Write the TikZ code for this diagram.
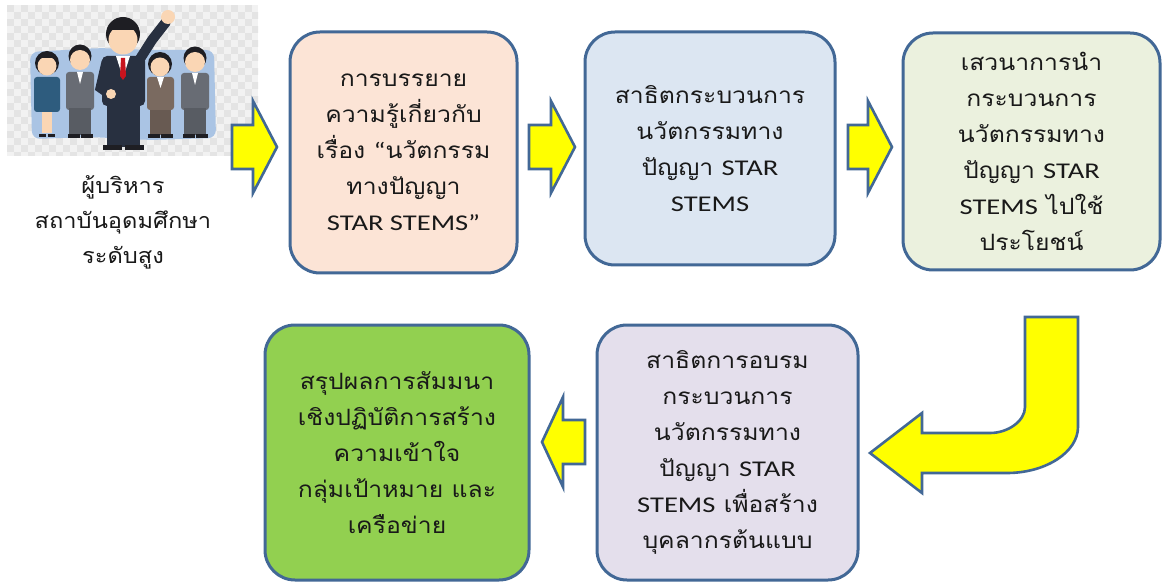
\documentclass[tikz,border=0pt]{standalone}
\usepackage{fontspec}
\newfontfamily\thaifont[Script=Thai, FakeStretch=1.1]{Loma}
\newfontfamily\latf[FakeStretch=1.27]{Carlito}
\definecolor{bord}{RGB}{66,104,150}
\definecolor{txt}{RGB}{25,25,25}
\definecolor{peach}{RGB}{252,228,214}
\definecolor{lblue}{RGB}{220,230,242}
\definecolor{lgreen}{RGB}{235,241,222}
\definecolor{lilac}{RGB}{228,223,236}
\definecolor{green1}{RGB}{146,208,80}
\definecolor{arrowfill}{RGB}{255,255,0}
\definecolor{chkA}{RGB}{242,242,242}
\definecolor{chkB}{RGB}{228,228,228}
\definecolor{backdrop}{RGB}{170,196,228}
\definecolor{skin}{RGB}{250,214,180}
\definecolor{hair}{RGB}{30,30,35}
\definecolor{suitnavy}{RGB}{40,48,64}
\definecolor{suitgray}{RGB}{104,108,116}
\definecolor{suitbrown}{RGB}{122,106,96}
\definecolor{suitteal}{RGB}{46,92,126}
\definecolor{tiered}{RGB}{200,20,30}
\tikzset{
  stepbox/.style={draw=bord, line width=3pt, rounded corners=30pt, align=center,
    text=txt, font=\thaifont\fontsize{22.5}{36}\selectfont},
  blockarrow/.style={draw=bord, line width=2.6pt, fill=arrowfill, line join=miter},
  caption/.style={align=center, text=txt, font=\thaifont\fontsize{21.5}{35}\selectfont}
}
\begin{document}
\begin{tikzpicture}[x=1pt,y=-1pt]
\useasboundingbox (0,0) rectangle (1164,585);
\fill[white] (0,0) rectangle (1164,585);

% ---- picture of the executives ----
\begin{scope}
  \clip (7,5) rectangle (258,156);
  \fill[chkA] (7,5) rectangle (258,156);
  \foreach \i in {0,...,36} {
    \foreach \j in {0,...,21} {
      \pgfmathtruncatemacro{\chk}{mod(\i+\j,2)}
      \ifnum\chk=0
        \fill[chkB] (7+7*\i,5+7*\j) rectangle ++(7,7);
      \fi
    }
  }
\end{scope}
\node[inner sep=0pt, minimum width=251pt, minimum height=151pt] (photo) at (132.5,80.5) {};
% pale blue backdrop
\fill[backdrop, rounded corners=8pt] (30,52) -- (100,48) -- (150,50) -- (214,50) -- (216,138) -- (150,140) -- (90,137) -- (32,139) -- cycle;

% woman, teal suit
\fill[skin] (42,108) rectangle (52,133);
\fill[suitteal, rounded corners=3pt] (34,77) rectangle (60,112);
\fill[hair] (47,63) circle (12);
\fill[skin] (47,66) circle (9.5);
\fill[hair] (38,58) arc (180:360:9 and 4) -- cycle;
\fill[hair] (39,134) rectangle (46,137); \fill[hair] (48,134) rectangle (55,137);

% man, gray suit
\fill[suitgray, rounded corners=3pt] (66,72) rectangle (94,110);
\fill[suitgray!85!black] (69,108) rectangle (91,135);
\fill[white] (77,72) -- (83,72) -- (80,84) -- cycle;
\fill[hair] (80,56) circle (11.5);
\fill[skin] (80,60) circle (10);
\fill[hair] (68,134) rectangle (80,138); \fill[hair] (81,134) rectangle (93,138);

% woman, brown suit
\fill[suitbrown!85!black] (150,108) rectangle (171,135);
\fill[suitbrown, rounded corners=3pt] (147,77) rectangle (174,110);
\fill[white] (157,77) -- (164,77) -- (160.5,88) -- cycle;
\fill[hair] (160,64) circle (12);
\fill[skin] (160,67) circle (9.5);
\fill[hair] (148,134) rectangle (160,138); \fill[hair] (161,134) rectangle (173,138);

% man, gray suit
\fill[suitgray, rounded corners=3pt] (181,73) rectangle (209,110);
\fill[suitgray!85!black] (184,108) rectangle (206,135);
\fill[white] (192,73) -- (198,73) -- (195,85) -- cycle;
\fill[hair] (195,58) circle (11.5);
\fill[skin] (195,62) circle (10);
\fill[hair] (183,134) rectangle (195,138); \fill[hair] (196,134) rectangle (208,138);

% leader in the middle with a raised fist
\fill[suitnavy] (107,100) rectangle (140,147);
\draw[suitnavy, line width=10pt, line cap=round] (138,62) -- (152,40) -- (166,22);
\fill[skin] (168,17) circle (7);
\fill[suitnavy, rounded corners=5pt] (102,56) rectangle (145,106);
\draw[suitnavy, line width=9pt, line cap=round] (106,62) -- (100,88) -- (110,95);
\fill[skin] (111,94) circle (5);
\fill[white] (116,56) -- (130,56) -- (123,78) -- cycle;
\fill[tiered] (121,58) -- (125,58) -- (126,76) -- (123,80) -- (120,76) -- cycle;
\fill[hair] (123,34) circle (17);
\fill[skin] (123,40) circle (14.5);
\fill[hair] (109,30) arc (180:360:14 and 6) -- cycle;
\fill[hair] (103,145) rectangle (122,150); \fill[hair] (125,145) rectangle (144,150);

\node[caption] (cap) at (123,222) {ผู้บริหาร\\สถาบันอุดมศึกษา\\ระดับสูง};

% ---- process boxes ----
\node[stepbox, fill=peach, minimum width=227pt, minimum height=241pt] (b1) at (403.5,152.5)
  {การบรรยาย\\ความรู้เกี่ยวกับ\\เรื่อง {\latf “}นวัตกรรม\\ทางปัญญา\\{\latf STAR STEMS”}};
\node[stepbox, fill=lblue, minimum width=250pt, minimum height=233pt] (b2) at (710,148.5)
  {สาธิตกระบวนการ\\นวัตกรรมทาง\\ปัญญา {\latf STAR}\\{\latf STEMS}};
\node[stepbox, fill=lgreen, minimum width=257pt, minimum height=237pt] (b3) at (1031.5,151.5)
  {เสวนาการนำ\\กระบวนการ\\นวัตกรรมทาง\\ปัญญา {\latf STAR}\\{\latf STEMS} ไปใช้\\ประโยชน์};
\node[stepbox, fill=lilac, minimum width=261pt, minimum height=255pt] (b4) at (727.5,452.5)
  {สาธิตการอบรม\\กระบวนการ\\นวัตกรรมทาง\\ปัญญา {\latf STAR}\\{\latf STEMS} เพื่อสร้าง\\บุคลากรต้นแบบ};
\node[stepbox, fill=green1, minimum width=264pt, minimum height=255pt] (b5) at (397,452.5)
  {สรุปผลการสัมมนา\\เชิงปฏิบัติการสร้าง\\ความเข้าใจ\\กลุ่มเป้าหมาย และ\\เครือข่าย};

% ---- block arrows ----
% straight right arrows: shaft left, head base, tip, centre line
\foreach \xa/\xb/\xc in {232/253/277, 529/551/575, 848/868/892} {
  \draw[blockarrow] (\xa,125) -- (\xb,125) -- (\xb,101) -- (\xc,147) -- (\xb,193) -- (\xb,169) -- (\xa,169) -- cycle;
}
% left arrow between the lower boxes
\draw[blockarrow] (585,420) -- (563,420) -- (563,397) -- (542,442) -- (563,487) -- (563,464) -- (585,464) -- cycle;
% hooked arrow from the top row down to the bottom row
\draw[blockarrow] (1025,317) -- (1078,317) -- (1078,427)
  .. controls (1078,452) and (1046,473) .. (1007,473)
  -- (922,473) -- (922,493) -- (870,453) -- (922,413) -- (922,433) -- (990,433)
  .. controls (1008,433) and (1025,421) .. (1025,407) -- cycle;
\end{tikzpicture}
\end{document}
